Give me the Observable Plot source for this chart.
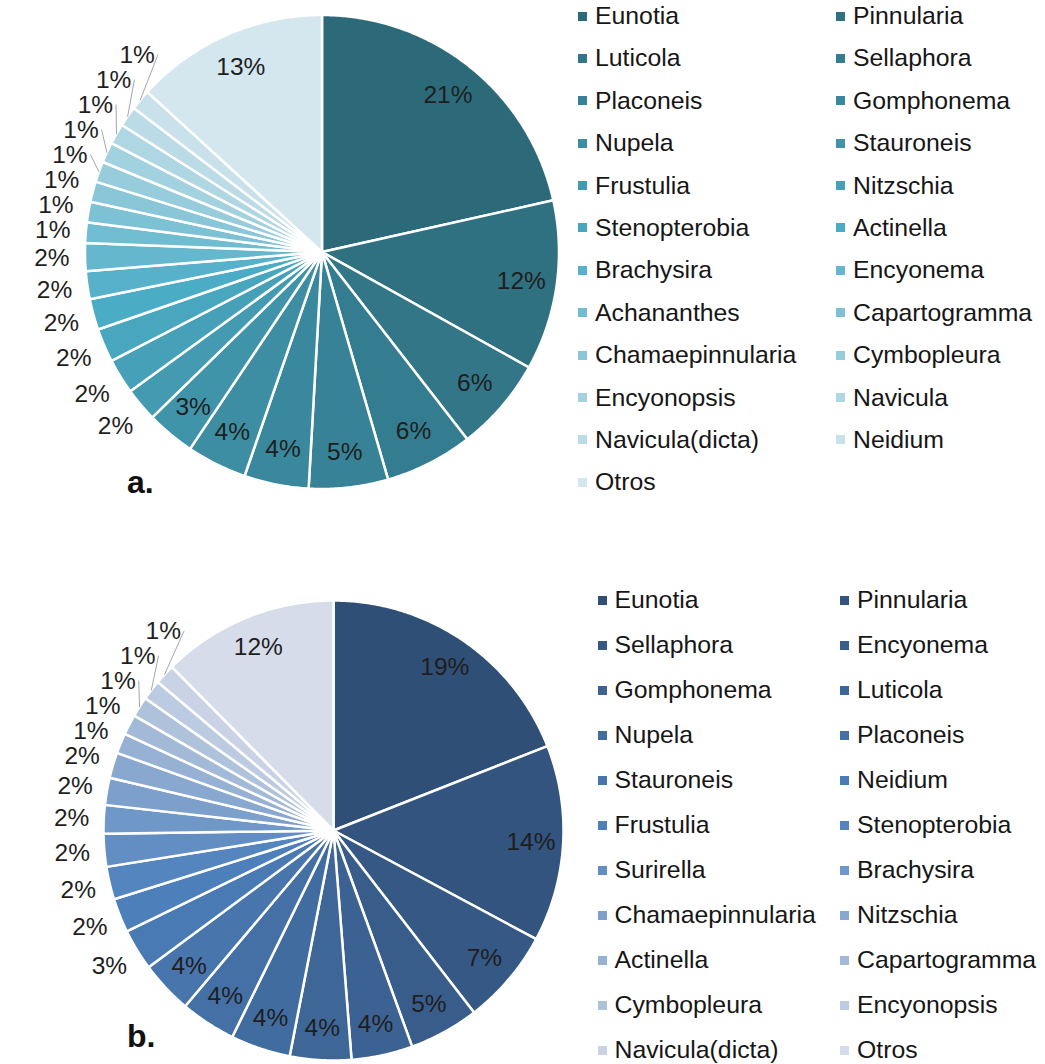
<!DOCTYPE html>
<html><head><meta charset="utf-8">
<script src="https://cdn.jsdelivr.net/npm/d3@7"></script>
<script src="https://cdn.jsdelivr.net/npm/@observablehq/plot@0.6"></script>
<style>
body{margin:0;background:#fff;font-family:"Liberation Sans",Arial,sans-serif;}
#root{position:relative;width:1045px;height:1064px;overflow:hidden;}
.pie{position:absolute;left:0;}
.legend{position:absolute;display:grid;color:#161616;font-size:24.8px;}
.item{display:flex;align-items:center;white-space:nowrap;}
.sw{width:9px;height:9px;margin-right:8px;flex:none;}
.tag{position:absolute;font-weight:bold;color:#111;line-height:1;}
</style></head><body><div id="root"></div>
<script>
// ---- data: panel a ----
const catsA = ["Eunotia","Pinnularia","Luticola","Sellaphora","Placoneis","Gomphonema","Nupela","Stauroneis","Frustulia","Nitzschia","Stenopterobia","Actinella","Brachysira","Encyonema","Achananthes","Capartogramma","Chamaepinnularia","Cymbopleura","Encyonopsis","Navicula","Navicula(dicta)","Neidium","Otros"];
const valsA = [21.5,11.6,6.4,6.0,5.4,4.4,4.1,3.3,2.3,2.4,2.3,2.1,1.9,1.9,1.4,1.4,1.4,1.4,1.4,1.4,1.4,1.4,13.2];
// ---- data: panel b ----
const catsB = ["Eunotia","Pinnularia","Sellaphora","Encyonema","Gomphonema","Luticola","Nupela","Placoneis","Stauroneis","Neidium","Frustulia","Stenopterobia","Surirella","Brachysira","Chamaepinnularia","Nitzschia","Actinella","Capartogramma","Cymbopleura","Encyonopsis","Navicula(dicta)","Otros"];
const valsB = [19.0,13.8,6.7,4.9,4.3,4.3,4.2,3.9,3.7,2.9,2.4,2.3,2.3,2.0,1.9,1.8,1.42,1.42,1.42,1.42,1.42,12.4];

// ---- layout / style config ----
const cfgA = {top:0,width:580,height:530,cx:321.5,cy:251.5,R:237,
  dark:"#2c6a7a",accent:"#4bacc6",light:"#d4e6ee",insideMin:3,rIn:0.85,rOut:1.14,gap:25,
  legend:{left:578,top:-5.2,rowH:42.4,colW:258}, tag:{text:"a.",left:127,top:466,size:32}};
const cfgB = {top:560,width:580,height:504,cx:333,cy:270,R:230,
  dark:"#2f4f77",accent:"#4f81bd",light:"#d6dce9",insideMin:3,rIn:0.86,rOut:1.14,gap:25,
  legend:{left:597.5,top:577.5,rowH:45,colW:242.5}, tag:{text:"b.",left:127,top:1020,size:32}};

const root = document.getElementById("root");

function drawPanel(cats, vals, cfg){
  const total = d3.sum(vals);
  const n = cats.length;
  const ramp = d3.scaleLinear().domain([0,(n-1)/2,n-1]).range([cfg.dark,cfg.accent,cfg.light]).interpolate(d3.interpolateRgb);
  const colors = cats.map((c,i)=>ramp(i));
  const arcs = d3.pie().sort(null).value(d=>d)(vals);

  const rows = [];
  arcs.forEach((a,i)=>{
    const key = cats[i];
    rows.push({key,x:0,y:0});
    const span = a.endAngle-a.startAngle;
    const steps = Math.max(4, Math.ceil(span/(Math.PI/360)));
    for(let k=0;k<=steps;k++){const t=a.startAngle+span*k/steps; rows.push({key,x:Math.sin(t),y:Math.cos(t)});}
    rows.push({key,x:0,y:0});
  });

  const px = 1/cfg.R, fs = 24.5;
  const labels = [], leaders = [];
  let prevY = -Infinity;
  arcs.forEach((a,i)=>{
    const pct = vals[i]/total*100;
    const text = Math.round(pct)+"%";
    const m = (a.startAngle+a.endAngle)/2;
    if(pct >= cfg.insideMin){ labels.push({text,x:cfg.rIn*Math.sin(m),y:cfg.rIn*Math.cos(m)}); return; }
    const nx = cfg.rOut*Math.sin(m), ny = cfg.rOut*Math.cos(m);
    let y = ny, x = nx;
    if(m > Math.PI){ y = Math.max(ny, prevY + cfg.gap*px); prevY = y; }
    if(y !== ny) x = -Math.sqrt(Math.max(0, cfg.rOut*cfg.rOut - y*y));
    labels.push({text,x,y});
    if(Math.abs(y-ny)/px > 5){
      const w = ((text.length-1)*0.556+0.889)*fs;
      const x1 = x + (w/2+3)*px;
      const ax = Math.sin(m), ay = Math.cos(m);
      leaders.push({id:i,x:x1,y});
      if(x1 + 10*px < ax) leaders.push({id:i,x:x1+10*px,y});
      leaders.push({id:i,x:ax,y:ay});
    }
  });

  const svg = Plot.plot({
    width:cfg.width, height:cfg.height, margin:0,
    x:{domain:[-cfg.cx/cfg.R,(cfg.width-cfg.cx)/cfg.R],axis:null},
    y:{domain:[-(cfg.height-cfg.cy)/cfg.R,cfg.cy/cfg.R],axis:null},
    color:{domain:cats,range:colors},
    style:{fontFamily:'"Liberation Sans", Arial, sans-serif',background:"transparent",overflow:"visible"},
    marks:[
      Plot.line(rows,{x:"x",y:"y",z:"key",fill:"key",stroke:"white",strokeWidth:2.5,strokeLinejoin:"round"}),
      Plot.line(leaders,{x:"x",y:"y",z:"id",stroke:"#a6a6a6",strokeWidth:1}),
      Plot.text(labels,{x:"x",y:"y",text:"text",fontSize:fs,fill:"#1e1e1e"})
    ]
  });
  const wrap = document.createElement("div");
  wrap.className="pie"; wrap.style.top=cfg.top+"px";
  wrap.appendChild(svg); root.appendChild(wrap);

  const lg = document.createElement("div");
  lg.className="legend";
  lg.style.left=cfg.legend.left+"px"; lg.style.top=cfg.legend.top+"px";
  lg.style.gridTemplateColumns=`${cfg.legend.colW}px auto`;
  lg.style.gridAutoRows=cfg.legend.rowH+"px";
  cats.forEach((c,i)=>{
    const it=document.createElement("div"); it.className="item";
    const sw=document.createElement("span"); sw.className="sw"; sw.style.background=colors[i];
    const tx=document.createElement("span"); tx.textContent=c;
    it.appendChild(sw); it.appendChild(tx); lg.appendChild(it);
  });
  root.appendChild(lg);

  const tag=document.createElement("div"); tag.className="tag";
  tag.textContent=cfg.tag.text; tag.style.left=cfg.tag.left+"px"; tag.style.top=cfg.tag.top+"px"; tag.style.fontSize=cfg.tag.size+"px";
  root.appendChild(tag);
}
drawPanel(catsA, valsA, cfgA);
drawPanel(catsB, valsB, cfgB);
</script></body></html>
